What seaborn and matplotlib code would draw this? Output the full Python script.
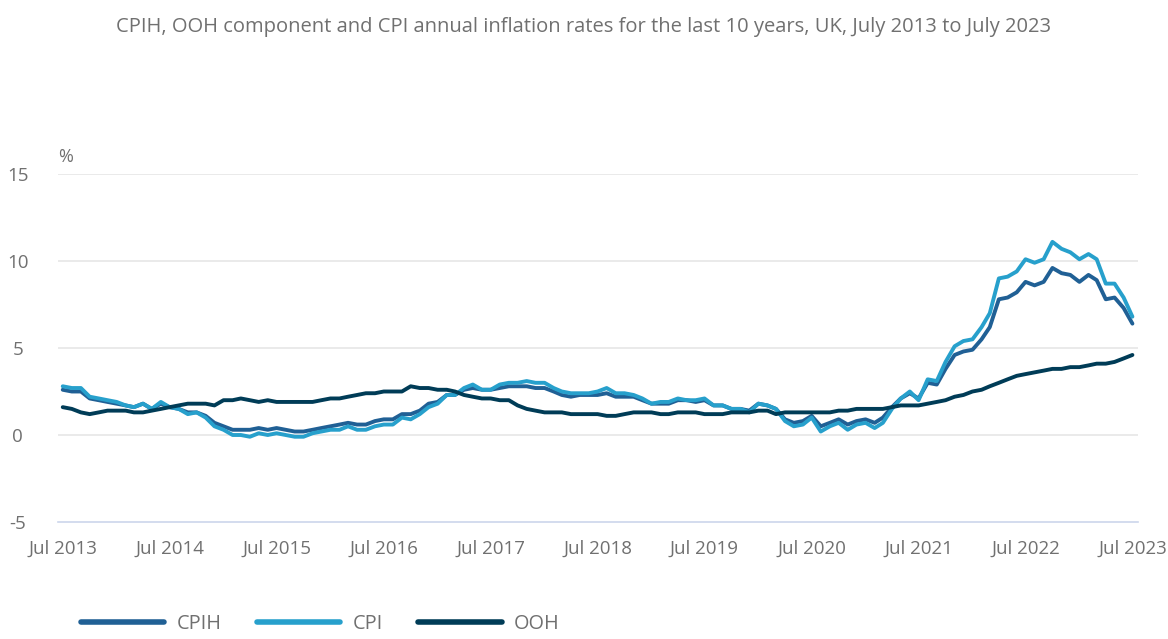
import pandas as pd
import matplotlib.pyplot as plt
import matplotlib.dates as mdates
import seaborn as sns

# ---------------------------------------------------------
# Data: annual rates (%), monthly, Jul 2013 .. Jul 2023
# ---------------------------------------------------------
months = pd.date_range('2013-07-01', '2023-07-01', freq='MS')

cpih = [
    2.6, 2.5, 2.5, 2.1, 2.0, 1.9,
    1.8, 1.7, 1.6, 1.8, 1.5, 1.8, 1.6, 1.5, 1.3, 1.3, 1.1, 0.7,
    0.5, 0.3, 0.3, 0.3, 0.4, 0.3, 0.4, 0.3, 0.2, 0.2, 0.3, 0.4,
    0.5, 0.6, 0.7, 0.6, 0.6, 0.8, 0.9, 0.9, 1.2, 1.2, 1.4, 1.8,
    1.9, 2.3, 2.3, 2.6, 2.7, 2.6, 2.6, 2.7, 2.8, 2.8, 2.8, 2.7,
    2.7, 2.5, 2.3, 2.2, 2.3, 2.3, 2.3, 2.4, 2.2, 2.2, 2.2, 2.0,
    1.8, 1.8, 1.8, 2.0, 2.0, 1.9, 2.0, 1.7, 1.7, 1.5, 1.5, 1.4,
    1.8, 1.7, 1.5, 0.9, 0.7, 0.8, 1.1, 0.5, 0.7, 0.9, 0.6, 0.8,
    0.9, 0.7, 1.0, 1.6, 2.1, 2.4, 2.1, 3.0, 2.9, 3.8, 4.6, 4.8,
    4.9, 5.5, 6.2, 7.8, 7.9, 8.2, 8.8, 8.6, 8.8, 9.6, 9.3, 9.2,
    8.8, 9.2, 8.9, 7.8, 7.9, 7.3, 6.4,
]

cpi = [
    2.8, 2.7, 2.7, 2.2, 2.1, 2.0,
    1.9, 1.7, 1.6, 1.8, 1.5, 1.9, 1.6, 1.5, 1.2, 1.3, 1.0, 0.5,
    0.3, 0.0, 0.0, -0.1, 0.1, 0.0, 0.1, 0.0, -0.1, -0.1, 0.1, 0.2,
    0.3, 0.3, 0.5, 0.3, 0.3, 0.5, 0.6, 0.6, 1.0, 0.9, 1.2, 1.6,
    1.8, 2.3, 2.3, 2.7, 2.9, 2.6, 2.6, 2.9, 3.0, 3.0, 3.1, 3.0,
    3.0, 2.7, 2.5, 2.4, 2.4, 2.4, 2.5, 2.7, 2.4, 2.4, 2.3, 2.1,
    1.8, 1.9, 1.9, 2.1, 2.0, 2.0, 2.1, 1.7, 1.7, 1.5, 1.5, 1.3,
    1.8, 1.7, 1.5, 0.8, 0.5, 0.6, 1.0, 0.2, 0.5, 0.7, 0.3, 0.6,
    0.7, 0.4, 0.7, 1.5, 2.1, 2.5, 2.0, 3.2, 3.1, 4.2, 5.1, 5.4,
    5.5, 6.2, 7.0, 9.0, 9.1, 9.4, 10.1, 9.9, 10.1, 11.1, 10.7, 10.5,
    10.1, 10.4, 10.1, 8.7, 8.7, 7.9, 6.8,
]

ooh = [
    1.6, 1.5, 1.3, 1.2, 1.3, 1.4,
    1.4, 1.4, 1.3, 1.3, 1.4, 1.5, 1.6, 1.7, 1.8, 1.8, 1.8, 1.7,
    2.0, 2.0, 2.1, 2.0, 1.9, 2.0, 1.9, 1.9, 1.9, 1.9, 1.9, 2.0,
    2.1, 2.1, 2.2, 2.3, 2.4, 2.4, 2.5, 2.5, 2.5, 2.8, 2.7, 2.7,
    2.6, 2.6, 2.5, 2.3, 2.2, 2.1, 2.1, 2.0, 2.0, 1.7, 1.5, 1.4,
    1.3, 1.3, 1.3, 1.2, 1.2, 1.2, 1.2, 1.1, 1.1, 1.2, 1.3, 1.3,
    1.3, 1.2, 1.2, 1.3, 1.3, 1.3, 1.2, 1.2, 1.2, 1.3, 1.3, 1.3,
    1.4, 1.4, 1.2, 1.3, 1.3, 1.3, 1.3, 1.3, 1.3, 1.4, 1.4, 1.5,
    1.5, 1.5, 1.5, 1.6, 1.7, 1.7, 1.7, 1.8, 1.9, 2.0, 2.2, 2.3,
    2.5, 2.6, 2.8, 3.0, 3.2, 3.4, 3.5, 3.6, 3.7, 3.8, 3.8, 3.9,
    3.9, 4.0, 4.1, 4.1, 4.2, 4.4, 4.6,
]

series_names = ['CPIH', 'CPI', 'OOH']
colours = ['#206095', '#27a0cc', '#003c57']

title = 'CPIH, OOH component and CPI annual inflation rates for the last 10 years, UK, July 2013 to July 2023'

# ---------------------------------------------------------
# Long format table for seaborn
# ---------------------------------------------------------
df = pd.concat([
    pd.DataFrame({'date': months, 'rate': vals, 'series': name})
    for name, vals in zip(series_names, [cpih, cpi, ooh])
], ignore_index=True)

# ---------------------------------------------------------
# Plot
# ---------------------------------------------------------
sns.set_style('white')
plt.rcParams['font.family'] = ['Open Sans', 'DejaVu Sans']
plt.rcParams['axes.unicode_minus'] = False
text_grey = '#707070'
axis_blue = '#ccd6eb'

fig = plt.figure(figsize=(11.68, 6.39), dpi=100)
ax = fig.add_axes([0.0497, 0.1831, 0.9246, 0.5446])

sns.lineplot(
    data=df, x='date', y='rate', hue='series',
    hue_order=series_names, palette=dict(zip(series_names, colours)),
    linewidth=2.8, ax=ax, legend=False,
)

ax.set_ylim(-5, 15)
ax.set_yticks([-5, 0, 5, 10, 15])
ax.set_xlim(pd.Timestamp('2013-06-15'), pd.Timestamp('2023-07-20'))

xticks = pd.date_range('2013-07-01', '2023-07-01', freq='12MS')
ax.set_xticks(xticks)
ax.xaxis.set_major_formatter(mdates.DateFormatter('Jul %Y'))

for v in [0, 5, 10, 15]:
    ax.axhline(v, color='#e6e6e6', linewidth=1.2, zorder=0)

for s in ['top', 'right', 'left']:
    ax.spines[s].set_visible(False)
ax.spines['bottom'].set_color(axis_blue)
ax.spines['bottom'].set_linewidth(1.2)

ax.tick_params(axis='x', colors=axis_blue, length=7, width=1.2, pad=6,
               labelcolor=text_grey, labelsize=13.5)
ax.tick_params(axis='y', length=0, pad=29, labelcolor=text_grey, labelsize=13.5)
for lbl in ax.get_yticklabels():
    lbl.set_horizontalalignment('center')

ax.set_xlabel('')
ax.set_ylabel('')
ax.annotate('%', xy=(0, 1), xycoords='axes fraction', xytext=(0, 6),
            textcoords='offset points', ha='left', va='bottom',
            color=text_grey, fontsize=13)

fig.text(0.5, 0.958, title, ha='center', va='center', color=text_grey, fontsize=14.5)

handles = [plt.Line2D([], [], color=c, linewidth=4) for c in colours]
fig.legend(handles, series_names, loc='center left', bbox_to_anchor=(0.054, 0.024),
           ncol=3, frameon=False, handlelength=4.2, columnspacing=1.8,
           handletextpad=0.6, labelcolor=text_grey, fontsize=14.3)

plt.savefig('out.png', dpi=100)
